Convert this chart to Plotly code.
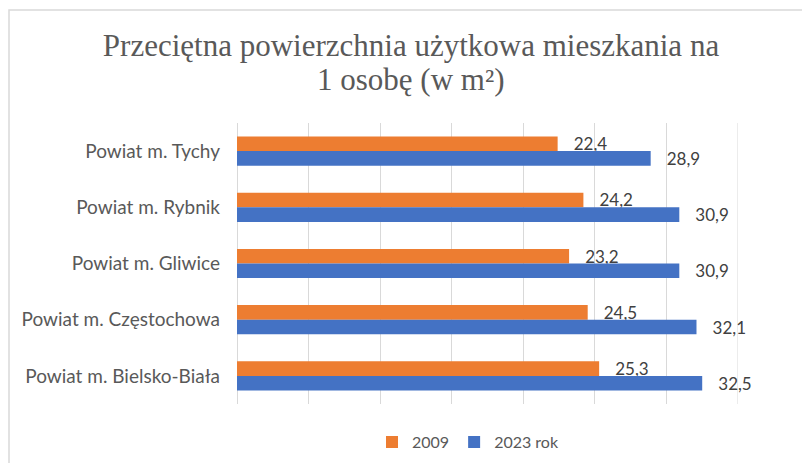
import plotly.graph_objects as go

categories = ["Powiat m. Tychy", "Powiat m. Rybnik", "Powiat m. Gliwice",
              "Powiat m. Częstochowa", "Powiat m. Bielsko-Biała"]
values_2009 = [22.4, 24.2, 23.2, 24.5, 25.3]
values_2023 = [28.9, 30.9, 30.9, 32.1, 32.5]
series_names = ["2009", "2023 rok"]
title_line1 = "Przeciętna powierzchnia użytkowa mieszkania na"
title_line2 = "1 osobę (w m²)"

# page has an 8px body margin, so the figure is sized to fit inside the window
W, H = 794, 455
L, T, PW, PH = 229, 115, 501, 281

NB = "\u00a0"
fig = go.Figure()
for vals, name, color in [(values_2009, series_names[0], "#ED7D31"),
                          (values_2023, series_names[1], "#4472C4")]:
    fig.add_trace(go.Bar(
        y=categories, x=vals, orientation="h", name=name,
        marker=dict(color=color, line=dict(width=0)),
        texttemplate=NB * 3 + "%{x:.1f}", textposition="outside",
        constraintext="none",
        textfont=dict(family="Lato", size=17, color="#404040"),
        cliponaxis=False,
    ))

fig.update_layout(
    width=W, height=H,
    margin=dict(l=L, r=W - L - PW, t=T, b=H - T - PH, autoexpand=False),
    paper_bgcolor="white", plot_bgcolor="white",
    separators=", ",
    barmode="group", bargap=0.48, bargroupgap=0,
    title=dict(
        text=title_line1,
        x=403 / W, xanchor="center", xref="container",
        y=1 - 37 / H, yanchor="middle", yref="container",
        font=dict(family="Liberation Serif", size=31, color="#595959"),
    ),
    annotations=[dict(
        text=title_line2, xref="paper", yref="paper",
        x=(403 - L) / PW, y=(T + PH - 72) / PH, xanchor="center", yanchor="middle",
        showarrow=False,
        font=dict(family="Liberation Serif", size=31, color="#595959"),
    )],
    xaxis=dict(range=[0, 35], dtick=5, showticklabels=False, automargin=False,
               showgrid=True, gridcolor="#d9d9d9", gridwidth=1,
               zeroline=True, zerolinecolor="#d9d9d9", zerolinewidth=1,
               showline=False),
    yaxis=dict(autorange="reversed", showgrid=False, showline=False, automargin=False,
               ticks="", ticklabelstandoff=16,
               tickfont=dict(family="Lato", size=19, color="#595959")),
    legend=dict(orientation="h", x=(460 - L) / PW, xanchor="center",
                y=-0.075, yanchor="top",
                font=dict(family="Lato", size=16, color="#595959"),
                traceorder="normal"),
    showlegend=True,
    shapes=[
        dict(type="line", xref="x", yref="paper", x0=35, x1=35, y0=0, y1=1,
             line=dict(color="#d9d9d9", width=1), layer="below"),
        dict(type="rect", xref="paper", yref="paper",
             x0=(1 - L) / PW, x1=1.3, y0=-0.4, y1=(T + PH - 2) / PH,
             line=dict(color="#d9d9d9", width=1.5), fillcolor="rgba(0,0,0,0)",
             layer="below"),
    ],
)

fig.write_html("out.html")
